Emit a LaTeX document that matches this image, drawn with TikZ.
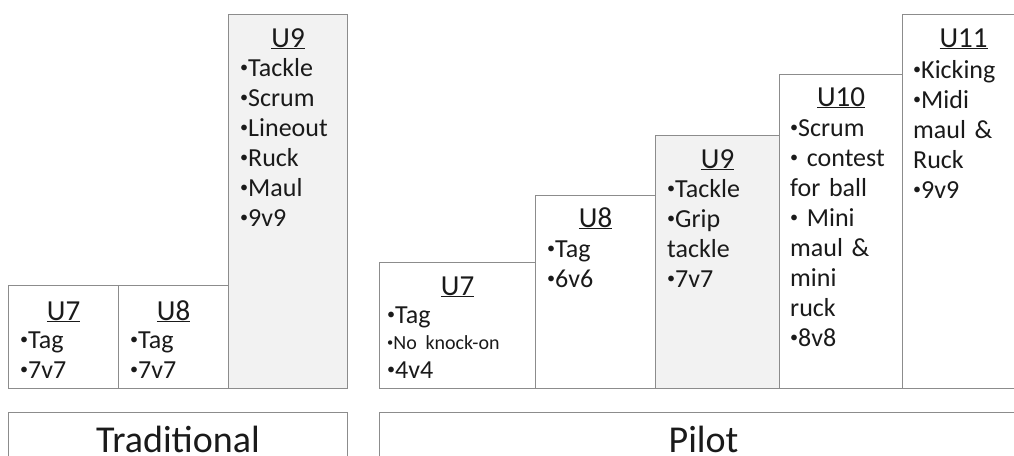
\documentclass[tikz,border=0pt]{standalone}
\usepackage{fontspec}
\setmainfont{Carlito}
\usepackage{tikz}
\usetikzlibrary{positioning}
\definecolor{boxline}{HTML}{8C8C8C}
\definecolor{boxfill}{HTML}{F2F2F2}
\definecolor{inktext}{HTML}{1A1A1A}
\newcommand\itembul{\raisebox{0.14em}{\scalebox{0.62}{\textbullet}}}

\begin{document}
\begin{tikzpicture}[
  x=1pt, y=1pt,
  agebox/.style={draw=boxline, line width=1.1pt, anchor=north west, inner sep=0pt},
  shaded/.style={agebox, fill=boxfill},
  agehead/.style={anchor=base, inner sep=0pt, text=inktext, font=\fontsize{29}{30}\selectfont},
  ageitems/.style={anchor=base west, inner sep=0pt, text=inktext, text width=118pt, align=left, font=\fontsize{26}{30}\selectfont},
  grouptitle/.style={anchor=base, inner sep=0pt, text=inktext, font=\fontsize{38}{40}\selectfont},
]
  \useasboundingbox (0,0) rectangle (1014,-455);

  % Traditional
  \node[agebox, minimum width=110pt, minimum height=103pt] (tu7) at (8,-285) {};
  \node[agebox, minimum width=110pt, minimum height=103pt] (tu8) at (118,-285) {};
  \node[shaded, minimum width=119pt, minimum height=374pt] (tu9) at (228,-14) {};
  \node[agebox, minimum width=339pt, minimum height=60pt] (trad) at (8,-412) {};

  \node[agehead] (tu7h) at ([yshift=-35pt]tu7.north) {\underline{U7}};
  \node[agehead] (tu8h) at ([yshift=-35pt]tu8.north) {\underline{U8}};
  \node[agehead] (tu9h) at ([yshift=-33pt]tu9.north) {\underline{U9}};
  \node[ageitems] (tu7t) at ([xshift=12pt,yshift=-63pt]tu7.north west) {\itembul Tag\\\itembul 7v7};
  \node[ageitems] (tu8t) at ([xshift=12pt,yshift=-63pt]tu8.north west) {\itembul Tag\\\itembul 7v7};
  \node[ageitems] (tu9t) at ([xshift=12pt,yshift=-62pt]tu9.north west)
    {\itembul Tackle\\\itembul Scrum\\\itembul Lineout\\\itembul Ruck\\\itembul Maul\\\itembul 9v9};
  \node[grouptitle] (tradt) at ([yshift=-40pt]trad.north) {Traditional};

  % Pilot
  \node[agebox, minimum width=156pt, minimum height=126pt] (pu7) at (379,-262) {};
  \node[agebox, minimum width=120pt, minimum height=193pt] (pu8) at (535,-195) {};
  \node[shaded, minimum width=124pt, minimum height=253pt] (pu9) at (655,-135) {};
  \node[agebox, minimum width=123pt, minimum height=314pt] (pu10) at (779,-74) {};
  \node[agebox, minimum width=130pt, minimum height=374pt] (pu11) at (902,-14) {};
  \node[agebox, minimum width=648pt, minimum height=60pt] (pilot) at (379,-412) {};

  \node[agehead] (pu7h) at ([yshift=-33pt]pu7.north) {\underline{U7}};
  \node[agehead] (pu8h) at ([yshift=-32pt]pu8.north) {\underline{U8}};
  \node[agehead] (pu9h) at ([yshift=-33pt]pu9.north) {\underline{U9}};
  \node[agehead] (pu10h) at ([yshift=-32pt]pu10.north) {\underline{U10}};
  \node[agehead] (pu11h) at ([xshift=-4pt,yshift=-33pt]pu11.north) {\underline{U11}};
  \node[ageitems] (pu7t) at ([xshift=8pt,yshift=-61pt]pu7.north west)
    {\itembul Tag\\[-4pt]{\fontsize{20}{24}\selectfont\itembul No knock-on}\\[-1pt]\itembul 4v4};
  \node[ageitems] (pu8t) at ([xshift=12pt,yshift=-62pt]pu8.north west) {\itembul Tag\\\itembul 6v6};
  \node[ageitems] (pu9t) at ([xshift=12pt,yshift=-62pt]pu9.north west)
    {\itembul Tackle\\\itembul Grip\\tackle\\\itembul 7v7};
  \node[ageitems] (pu10t) at ([xshift=11pt,yshift=-62pt]pu10.north west)
    {\itembul Scrum\\\itembul{} contest\\for ball\\\itembul{} Mini\\maul \&\\mini\\ruck\\\itembul 8v8};
  \node[ageitems] (pu11t) at ([xshift=11pt,yshift=-64pt]pu11.north west)
    {\itembul Kicking\\\itembul Midi\\maul \&\\Ruck\\\itembul 9v9};
  \node[grouptitle] (pilott) at ([yshift=-40pt]pilot.north) {Pilot};
\end{tikzpicture}
\end{document}
